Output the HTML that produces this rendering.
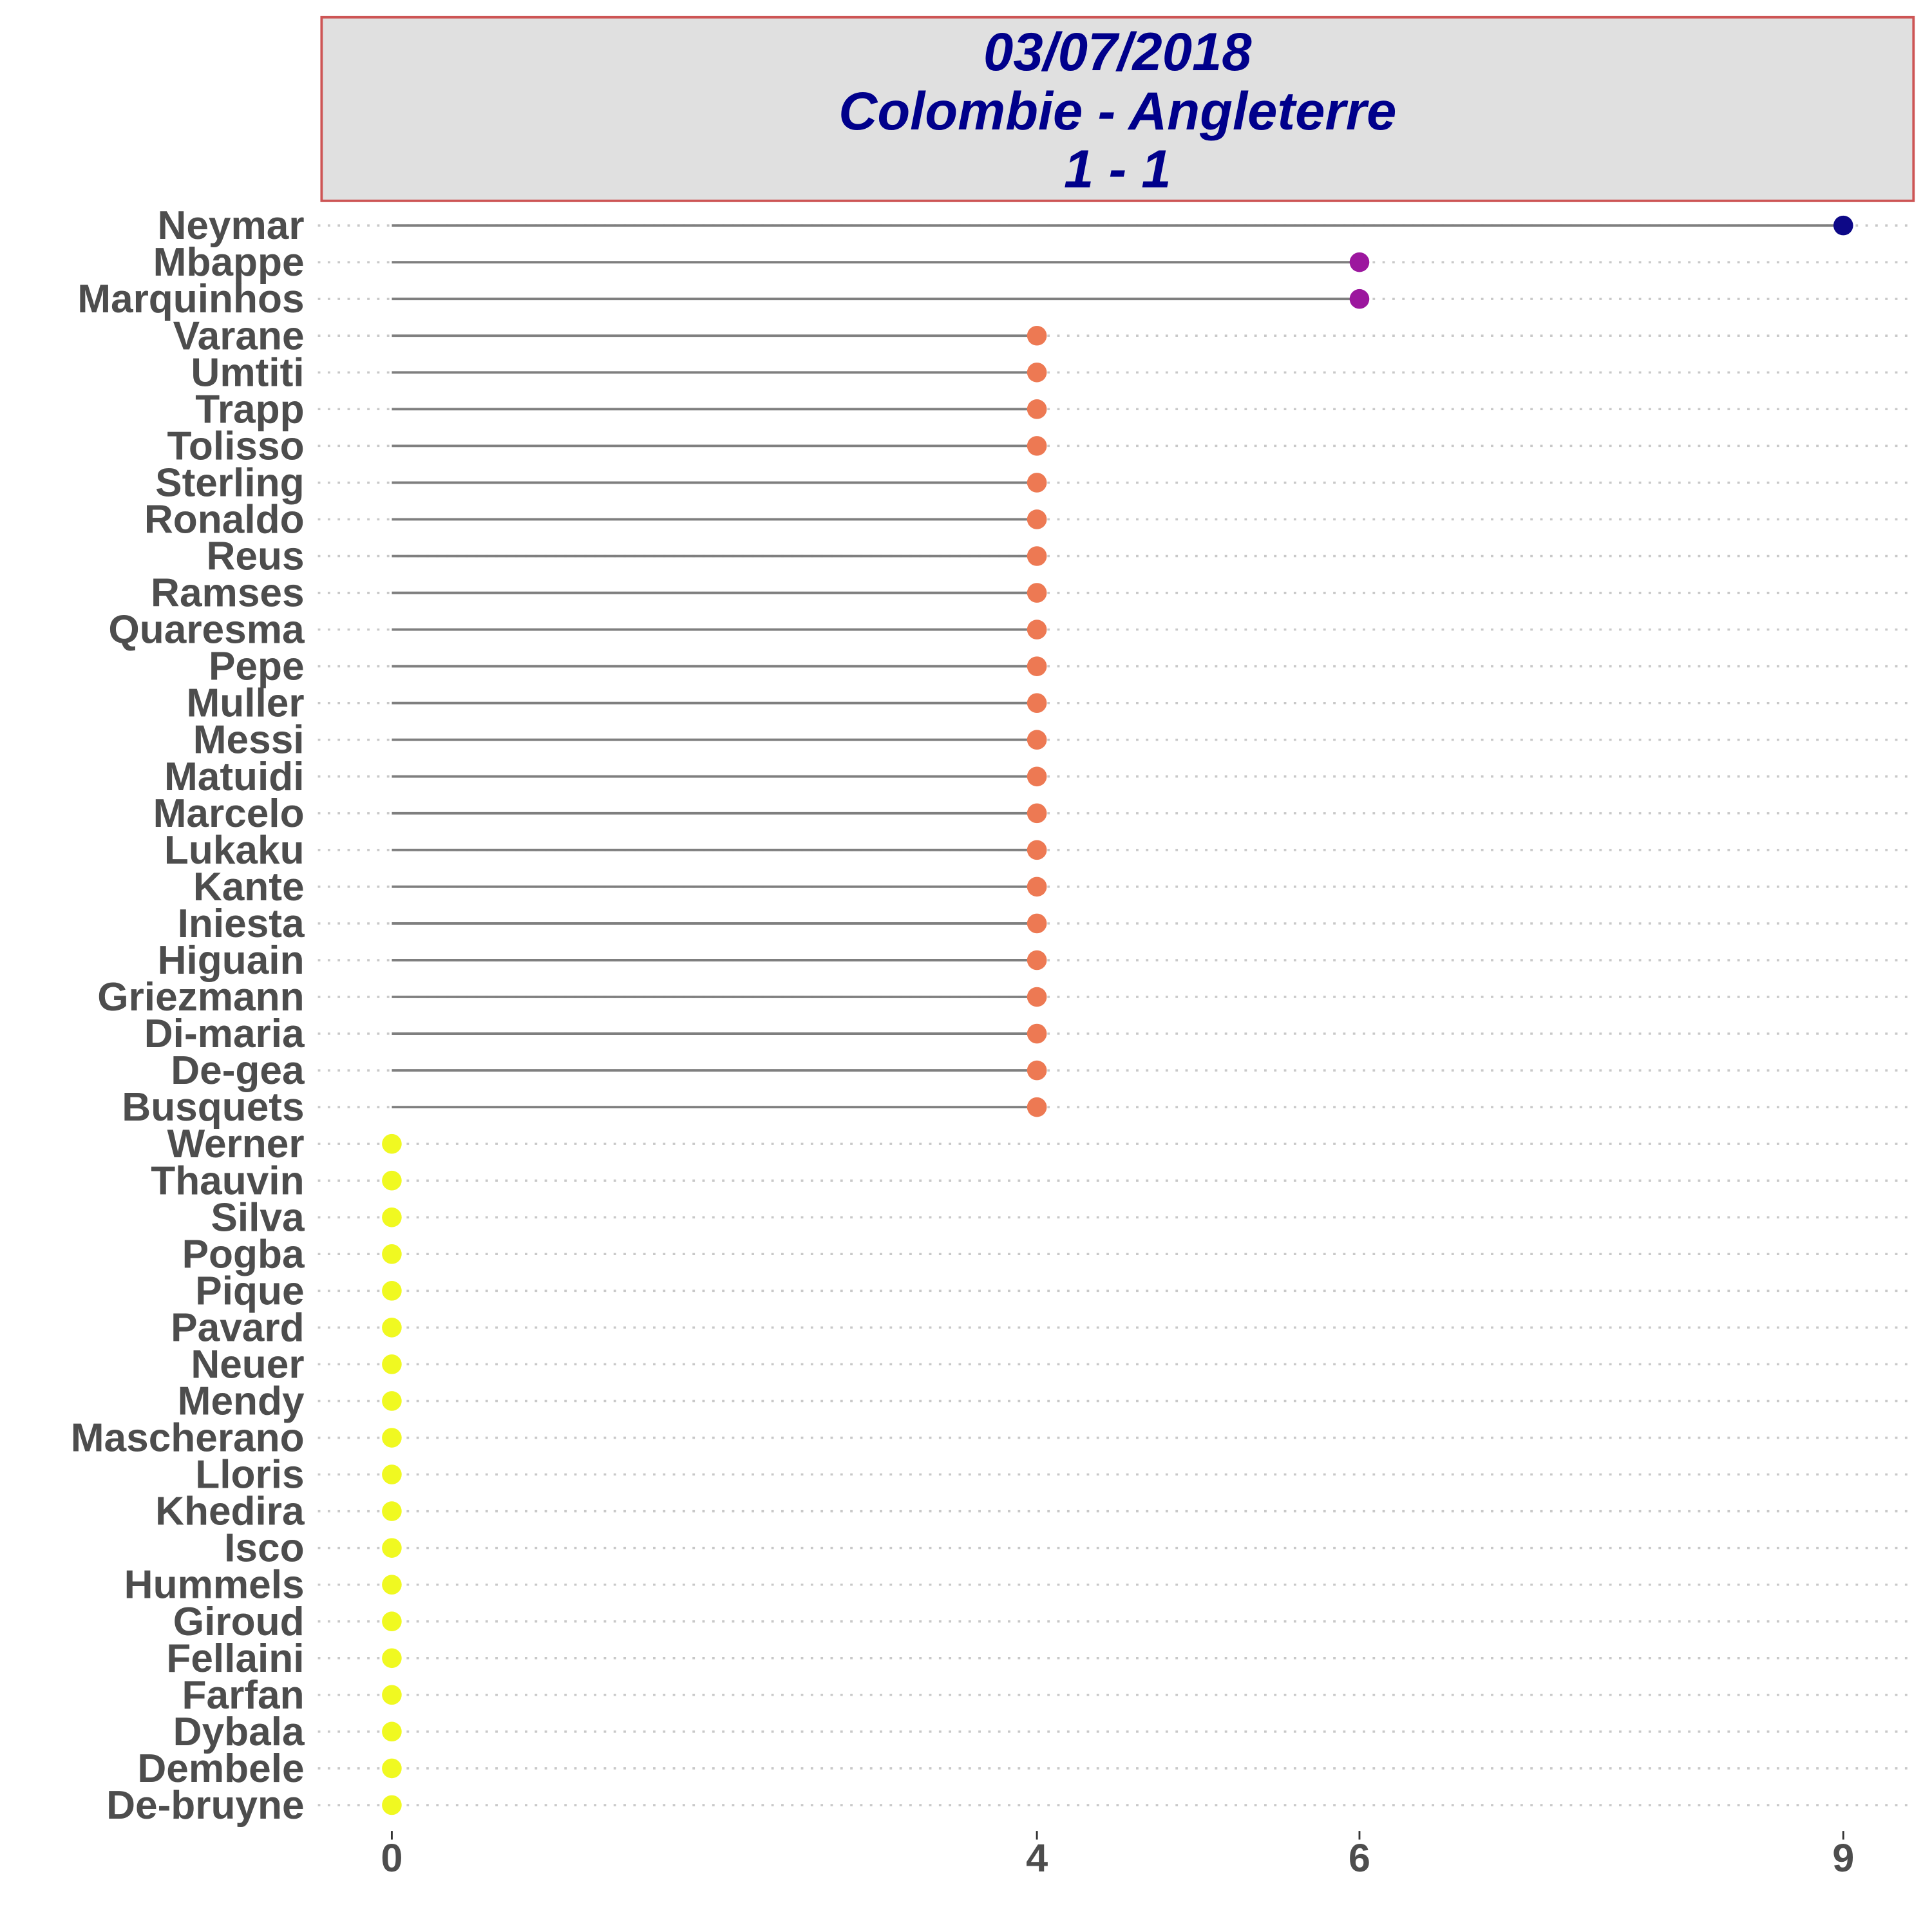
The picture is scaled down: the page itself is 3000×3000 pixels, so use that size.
<!DOCTYPE html>
<html><head><meta charset="utf-8"><style>
html,body{margin:0;padding:0;background:#fff}
svg{display:block}
text{font-family:"Liberation Sans",sans-serif}
</style></head><body>
<svg id="chart" width="3000" height="3000" viewBox="0 0 1568 1568" xmlns="http://www.w3.org/2000/svg">
<g>
<rect x="261" y="14" width="1292" height="149" fill="#e0e0e0" stroke="#cd5555" stroke-width="2"/>
<text x="907" y="57" text-anchor="middle" font-size="43.5" font-weight="bold" font-style="italic" fill="#00008B">03/07/2018</text>
<text x="907" y="105" text-anchor="middle" font-size="43.5" font-weight="bold" font-style="italic" fill="#00008B">Colombie - Angleterre</text>
<text x="907" y="152" text-anchor="middle" font-size="43.5" font-weight="bold" font-style="italic" fill="#00008B">1 - 1</text>
</g>
<g id="grid"></g><g id="segs"></g><g id="pts"></g><g id="ylab"></g><g id="xax"></g>
</svg>
<script>
const players = ["Neymar","Mbappe","Marquinhos","Varane","Umtiti","Trapp","Tolisso","Sterling","Ronaldo","Reus","Ramses","Quaresma","Pepe","Muller","Messi","Matuidi","Marcelo","Lukaku","Kante","Iniesta","Higuain","Griezmann","Di-maria","De-gea","Busquets","Werner","Thauvin","Silva","Pogba","Pique","Pavard","Neuer","Mendy","Mascherano","Lloris","Khedira","Isco","Hummels","Giroud","Fellaini","Farfan","Dybala","Dembele","De-bruyne"];
const values = [9,6,6,4,4,4,4,4,4,4,4,4,4,4,4,4,4,4,4,4,4,4,4,4,4,0,0,0,0,0,0,0,0,0,0,0,0,0,0,0,0,0,0,0];
const xTicks = [0,4,6,9];
const NS="http://www.w3.org/2000/svg";
const x = v => 318 + v*(1496-318)/9;
const y = i => 183 + i*(1465-183)/(players.length-1);
function col(v){ if(v>=9) return "#0D0887"; if(v>=6) return "#9C179E"; if(v>=4) return "#ED7953"; return "#F0F921"; }
function mk(t,a,p){const e=document.createElementNS(NS,t);for(const k in a)e.setAttribute(k,a[k]);p.appendChild(e);return e;}
const g=document.getElementById('grid'),s=document.getElementById('segs'),p=document.getElementById('pts'),yl=document.getElementById('ylab'),xa=document.getElementById('xax');
players.forEach((n,i)=>{
  const yy=y(i);
  const gl=mk('line',{x1:258,x2:1550,y1:yy,y2:yy,stroke:'#c8c8c8','stroke-width':1.8,'stroke-dasharray':'2 6'},g);
  
  
  if(values[i]>0){
    const ln=mk('line',{x1:x(0),x2:x(values[i]),y1:yy,y2:yy,stroke:'#7f7f7f','stroke-width':2},s);
    
    
  }
  const c=mk('circle',{cx:x(values[i]),cy:yy,r:8,fill:col(values[i])},p);
  
  
  const t=mk('text',{x:247,y:yy+11,'text-anchor':'end','font-size':32.5,'font-weight':'bold',fill:'#4d4d4d'},yl);
  t.textContent=n;
  
  
});
xTicks.forEach(v=>{
  const tk=mk('line',{x1:x(v),x2:x(v),y1:1486,y2:1493,stroke:'#333','stroke-width':1.5},xa);
  
  
  const t=mk('text',{x:x(v),y:1519,'text-anchor':'middle','font-size':32,'font-weight':'bold',fill:'#4d4d4d'},xa);
  t.textContent=v;
  
  
});
</script>
</body></html>
